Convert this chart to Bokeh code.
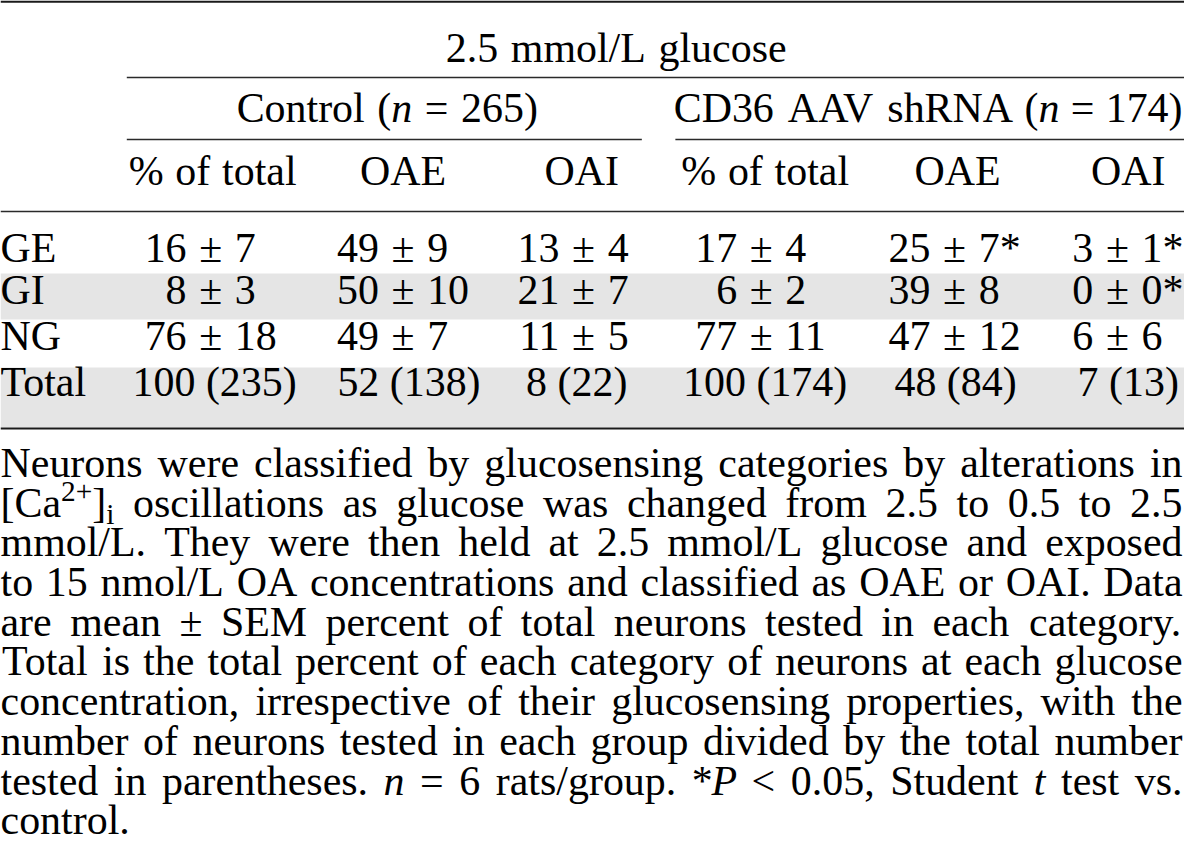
from bokeh.plotting import figure
from bokeh.models import Range1d, ColumnDataSource
from bokeh.core.properties import value
from bokeh.embed import file_html
from bokeh.resources import INLINE

# ---------------- data ----------------
spanner_title = "2.5 mmol/L glucose"
group_names = ["Control", "CD36 AAV shRNA"]
group_n = [265, 174]
col_labels = ["% of total", "OAE", "OAI"]
row_labels = ["GE", "GI", "NG"]
total_label = "Total"

ctrl_pct_mean = [16, 8, 76]
ctrl_pct_sem = [7, 3, 18]
ctrl_oae_mean = [49, 50, 49]
ctrl_oae_sem = [9, 10, 7]
ctrl_oai_mean = [13, 21, 11]
ctrl_oai_sem = [4, 7, 5]
cd36_pct_mean = [17, 6, 77]
cd36_pct_sem = [4, 2, 11]
cd36_oae_mean = [25, 39, 47]
cd36_oae_sem = [7, 8, 12]
cd36_oai_mean = [3, 0, 6]
cd36_oai_sem = [1, 0, 6]
cd36_pct_sig = [False, False, False]
cd36_oae_sig = [True, False, False]
cd36_oai_sig = [True, True, False]
ctrl_total_pct = [100, 52, 8]
ctrl_total_n = [235, 138, 22]
cd36_total_pct = [100, 48, 7]
cd36_total_n = [174, 84, 13]

# caption; |..| italic, ^..^ superscript, ~..~ subscript
caption_lines = [
    "Neurons were classified by glucosensing categories by alterations in",
    "[Ca^2+^]~i~ oscillations as glucose was changed from 2.5 to 0.5 to 2.5",
    "mmol/L. They were then held at 2.5 mmol/L glucose and exposed",
    "to 15 nmol/L OA concentrations and classified as OAE or OAI. Data",
    "are mean \u00b1 SEM percent of total neurons tested in each category.",
    "Total is the total percent of each category of neurons at each glucose",
    "concentration, irrespective of their glucosensing properties, with the",
    "number of neurons tested in each group divided by the total number",
    "tested in parentheses. |n| = 6 rats/group. *|P| < 0.05, Student |t| test vs.",
    "control.",
]

# ---------------- layout (reference pixel space) ----------------
REF_W = 1200
FIG_W, FIG_H = 1184, 847
KX = FIG_W / REF_W
FONT = "Liberation Serif"
TS = 42.5      # table font size
CS = 42.5      # caption font size (may shrink to fit)
BASE_FIX = 0.37  # renderer places alphabetic baseline ~0.37em low; compensate

# Times / Liberation Serif advance widths (em)
CW = {' ': .25, '.': .25, ',': .25, '/': .278, '(': .333, ')': .333, '[': .333, ']': .333,
      '*': .5, '\u00b1': .549, '=': .564, '<': .564, '+': .564, '%': .833, '-': .333}
for d in "0123456789":
    CW[d] = .5
CW.update(dict(zip("abcdefghijklmnopqrstuvwxyz",
                   [.444, .5, .444, .5, .444, .333, .5, .5, .278, .278, .5, .278, .778,
                    .5, .5, .5, .5, .333, .389, .278, .5, .5, .722, .5, .5, .444])))
CW.update(dict(zip("ABCDEFGHIJKLMNOPQRSTUVWXYZ",
                   [.722, .667, .667, .722, .611, .556, .722, .722, .333, .389, .722, .611, .889,
                    .722, .722, .556, .722, .667, .556, .611, .722, .722, .944, .722, .722, .611])))

items = {}


def put(x, y, txt, size, style="normal", align="left"):
    fpx = round(size * KX, 2)
    key = (fpx, style, align)
    d = items.setdefault(key, {"x": [], "y": [], "text": []})
    d["x"].append(x)
    d["y"].append(y - BASE_FIX * fpx)
    d["text"].append(txt)


def parse_word(w):
    segs, cur, ital, kind = [], "", False, "n"
    for ch in w:
        if ch in "|^~":
            if cur:
                segs.append((cur, ital, kind))
            cur = ""
            if ch == "|":
                ital = not ital
            elif ch == "^":
                kind = "sup" if kind == "n" else "n"
            else:
                kind = "sub" if kind == "n" else "n"
        else:
            cur += ch
    if cur:
        segs.append((cur, ital, kind))
    return segs


def seg_em(seg):
    t, ital, kind = seg
    f = 0.7 if kind != "n" else 1.0
    return sum(CW.get(c, .5) for c in t) * f


def word_em(w):
    return sum(seg_em(s) for s in parse_word(w))


def words_width(words, size, gap_em=0.25):
    return sum(word_em(w) for w in words) * size + gap_em * size * (len(words) - 1)


def draw_words(words, x, yb, size, align="left", target=None, gap_em=0.25):
    segl = [parse_word(w) for w in words]
    ww = [sum(seg_em(s) for s in sg) * size for sg in segl]
    if target is not None and len(words) > 1:
        gap = (target - sum(ww)) / (len(words) - 1)
    else:
        gap = gap_em * size
    total = sum(ww) + gap * (len(words) - 1)
    start = {"left": x, "center": x - total / 2, "right": x - total}[align]
    cx = start
    for sg, w in zip(segl, ww):
        c = cx
        for s in sg:
            sw = seg_em(s) * size
            t, ital, kind = s
            y, fs = yb, size
            if kind == "sup":
                y, fs = yb - 0.38 * size, size * 0.7
            elif kind == "sub":
                y, fs = yb + 0.15 * size, size * 0.7
            put(c + sw / 2, y, t, fs, "italic" if ital else "normal", "center")
            c += sw
        cx += w + gap


# vertical positions (texts given as desired baselines)
y_top_rule = 1.2
b_span1 = 63
y_rule1 = 77
b_span2 = 123
y_rule2 = 139
b_head = 186
y_rule3 = 211
b_rows = [263, 305, 351]
b_total = 397
band_gi = (273, 319)
band_total = (367, 427)
y_bottom_rule = 428
cap_b0 = 478
cap_step = 39.7

# horizontal positions
head_x = [215, 408, 589, 775, 970, 1143]
pm_x = [213, 408, 591, 771, 967, 1132]
tot_x = [217, 414, 584, 775, 968, 1143]
grp_rule = [(128, 650), (684, 1200)]
span1_x = 624
span2_x = [392, None]
RIGHT = 1198

# ---------------- figure ----------------
p = figure(width=FIG_W, height=FIG_H, x_range=Range1d(0, REF_W), y_range=Range1d(FIG_H, 0),
           output_backend="svg", toolbar_location=None, min_border=0,
           x_axis_type=None, y_axis_type=None, outline_line_color=None,
           background_fill_color="white", border_fill_color="white")
p.grid.visible = False

# shaded bands
p.quad(left=[0, 0], right=[REF_W, REF_W], top=[band_gi[0], band_total[0]],
       bottom=[band_gi[1], band_total[1]], fill_color="#e5e5e5", line_color=None)

# rules
p.segment(x0=[0, 0], y0=[y_top_rule, y_bottom_rule], x1=[REF_W, REF_W],
          y1=[y_top_rule, y_bottom_rule], line_color="#1a1a1a", line_width=2.2)
p.segment(x0=[128, grp_rule[0][0], grp_rule[1][0], 0],
          y0=[y_rule1, y_rule2, y_rule2, y_rule3],
          x1=[REF_W, grp_rule[0][1], grp_rule[1][1], REF_W],
          y1=[y_rule1, y_rule2, y_rule2, y_rule3], line_color="#2a2a2a", line_width=1.4)

# headers
draw_words(spanner_title.split(" "), span1_x, b_span1, TS, "center", gap_em=0.3)
for gi, ((a, b), name, n) in enumerate(zip(grp_rule, group_names, group_n)):
    words = name.split(" ") + ["(|n|", "=", "%d)" % n]
    if gi == 0:
        draw_words(words, span2_x[0], b_span2, TS, "center", gap_em=0.3)
    else:
        draw_words(words, RIGHT, b_span2, TS, "right", gap_em=0.27)
for g in range(2):
    for j, lab in enumerate(col_labels):
        draw_words(lab.split(" "), head_x[g * 3 + j], b_head, TS, "center", gap_em=0.28)

# body
means = [ctrl_pct_mean, ctrl_oae_mean, ctrl_oai_mean, cd36_pct_mean, cd36_oae_mean, cd36_oai_mean]
sems = [ctrl_pct_sem, ctrl_oae_sem, ctrl_oai_sem, cd36_pct_sem, cd36_oae_sem, cd36_oai_sem]
sigs = [[False] * 3, [False] * 3, [False] * 3, cd36_pct_sig, cd36_oae_sig, cd36_oai_sig]
pm_w = CW['\u00b1'] * TS
pad = 0.30 * TS
for i, lab in enumerate(row_labels):
    yb = b_rows[i]
    put(0, yb, lab, TS, "normal", "left")
    for c in range(6):
        xc = pm_x[c]
        put(xc - pm_w / 2 - pad, yb, str(means[c][i]), TS, "normal", "right")
        put(xc, yb, "\u00b1", TS, "normal", "center")
        put(xc + pm_w / 2 + pad, yb, str(sems[c][i]) + ("*" if sigs[c][i] else ""), TS, "normal", "left")

tot_pct = ctrl_total_pct + cd36_total_pct
tot_n = ctrl_total_n + cd36_total_n
put(0, b_total, total_label, TS, "normal", "left")
for c in range(6):
    put(tot_x[c], b_total, "%d (%d)" % (tot_pct[c], tot_n[c]), TS, "normal", "center")

# caption (justified); shrink font if any line would not fit
fit = []
for line in caption_lines[:-1]:
    ws = line.split(" ")
    fit.append(RIGHT / (sum(word_em(w) for w in ws) + 0.2 * (len(ws) - 1)))
CS = min(CS, min(fit))
for k, line in enumerate(caption_lines):
    yb = cap_b0 + k * cap_step
    words = line.split(" ")
    if k < len(caption_lines) - 1:
        draw_words(words, 0, yb, CS, "left", target=RIGHT)
    else:
        draw_words(words, 0, yb, CS, "left")

# emit text glyphs
for (fs, style, align), d in items.items():
    p.text(x="x", y="y", text="text", source=ColumnDataSource(d),
           text_font=value(FONT), text_font_size=value("%.2fpx" % fs),
           text_font_style=style, text_align=align, text_baseline="alphabetic",
           text_color="#000000")

open("out.html", "w").write(file_html(p, INLINE))
